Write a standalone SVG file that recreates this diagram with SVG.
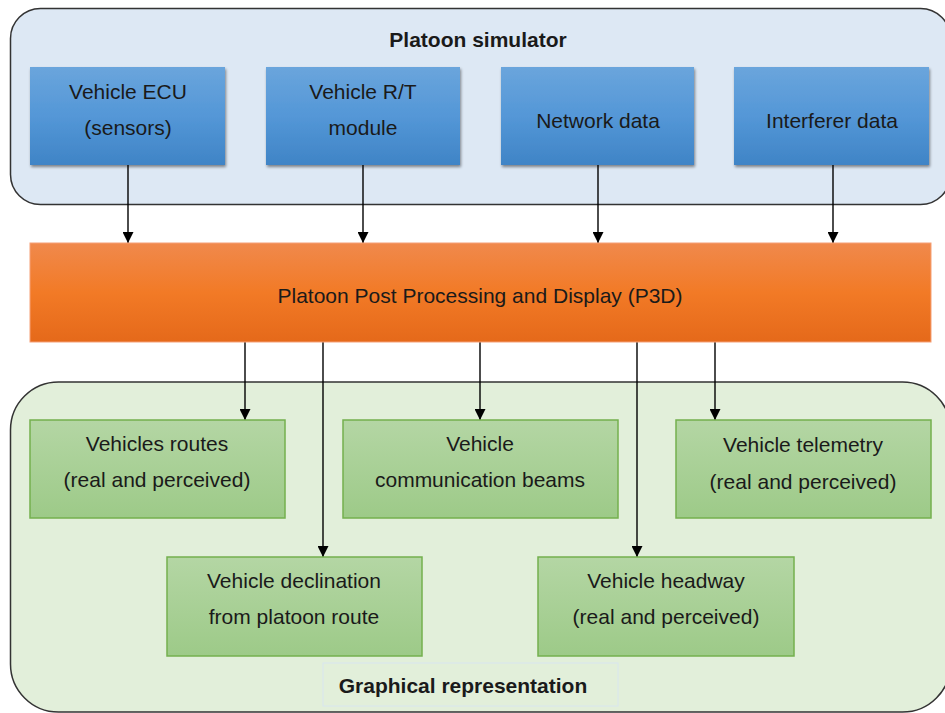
<svg xmlns="http://www.w3.org/2000/svg" width="945" height="713" viewBox="0 0 945 713">
<defs>
<linearGradient id="gBlue" x1="0" y1="0" x2="0" y2="1">
<stop offset="0" stop-color="#6aa5dc"/><stop offset="0.5" stop-color="#5497d7"/><stop offset="1" stop-color="#3f84c6"/>
</linearGradient>
<linearGradient id="gOrange" x1="0" y1="0" x2="0" y2="1">
<stop offset="0" stop-color="#f0894c"/><stop offset="0.5" stop-color="#f27a26"/><stop offset="1" stop-color="#e5691a"/>
</linearGradient>
<linearGradient id="gGreen" x1="0" y1="0" x2="0" y2="1">
<stop offset="0" stop-color="#b4d6a4"/><stop offset="1" stop-color="#9dca88"/>
</linearGradient>
<filter id="shadow" x="-10%" y="-10%" width="120%" height="130%">
<feGaussianBlur in="SourceAlpha" stdDeviation="1.5"/>
<feOffset dx="1" dy="2"/>
<feComponentTransfer><feFuncA type="linear" slope="0.45"/></feComponentTransfer>
<feMerge><feMergeNode/><feMergeNode in="SourceGraphic"/></feMerge>
</filter>
<marker id="arr" viewBox="0 0 10 10" refX="10" refY="5" markerWidth="11" markerHeight="11" markerUnits="userSpaceOnUse" orient="auto">
<path d="M0,0 L10,5 L0,10 z" fill="#000"/>
</marker>
</defs>
<style>
.t{font-family:"Liberation Sans",Arial,sans-serif;font-size:21px;fill:#1a1a1a;text-anchor:middle;dominant-baseline:central}
.b{font-weight:bold;font-size:21px}
.blue{fill:url(#gBlue);filter:url(#shadow)}
.green{fill:url(#gGreen);stroke:#74b04e;stroke-width:1.5}
.c{stroke:#000;stroke-width:1.4;fill:none}
</style>
<rect width="945" height="713" fill="#ffffff"/>
<g id="simulator">
<rect x="10.5" y="8.5" width="940" height="196" rx="30" fill="#dde8f4" stroke="#333" stroke-width="1.5"/>
<text class="t b" x="478" y="39">Platoon simulator</text>
</g>
<g id="graphical">
<rect x="10.5" y="382" width="940" height="330" rx="48" fill="#e2efda" stroke="#333" stroke-width="1.5"/>
</g>
<g id="connectors">
<line class="c" x1="128" y1="165" x2="128" y2="243" marker-end="url(#arr)"/>
<line class="c" x1="363" y1="165" x2="363" y2="243" marker-end="url(#arr)"/>
<line class="c" x1="598" y1="165" x2="598" y2="243" marker-end="url(#arr)"/>
<line class="c" x1="833" y1="165" x2="833" y2="243" marker-end="url(#arr)"/>
<line class="c" x1="245" y1="342" x2="245" y2="420" marker-end="url(#arr)"/>
<line class="c" x1="323" y1="342" x2="323" y2="557" marker-end="url(#arr)"/>
<line class="c" x1="480" y1="342" x2="480" y2="420" marker-end="url(#arr)"/>
<line class="c" x1="637" y1="342" x2="637" y2="557" marker-end="url(#arr)"/>
<line class="c" x1="715" y1="342" x2="715" y2="420" marker-end="url(#arr)"/>
</g>
<g id="ecu">
<rect class="blue" x="30" y="67" width="195" height="98"/>
<text class="t" x="128" y="91">Vehicle ECU</text>
<text class="t" x="128" y="127">(sensors)</text>
</g>
<g id="rt">
<rect class="blue" x="266" y="67" width="194" height="98"/>
<text class="t" x="363" y="91">Vehicle R/T</text>
<text class="t" x="363" y="127">module</text>
</g>
<g id="network">
<rect class="blue" x="501" y="67" width="193" height="98"/>
<text class="t" x="598" y="120">Network data</text>
</g>
<g id="interferer">
<rect class="blue" x="734" y="67" width="195" height="98"/>
<text class="t" x="832" y="120">Interferer data</text>
</g>
<g id="p3d">
<rect x="30" y="243" width="901" height="99" fill="url(#gOrange)" stroke="#f5a077" stroke-width="1"/>
<text class="t" x="480" y="295">Platoon Post Processing and Display (P3D)</text>
</g>
<g id="routes">
<rect class="green" x="30" y="420" width="255" height="98"/>
<text class="t" x="157" y="443">Vehicles routes</text>
<text class="t" x="157" y="479">(real and perceived)</text>
</g>
<g id="beams">
<rect class="green" x="343" y="420" width="275" height="98"/>
<text class="t" x="480" y="443">Vehicle</text>
<text class="t" x="480" y="479">communication beams</text>
</g>
<g id="telemetry">
<rect class="green" x="676" y="420" width="255" height="98"/>
<text class="t" x="803" y="444">Vehicle telemetry</text>
<text class="t" x="803" y="481">(real and perceived)</text>
</g>
<g id="declination">
<rect class="green" x="167" y="557" width="255" height="99"/>
<text class="t" x="294" y="580">Vehicle declination</text>
<text class="t" x="294" y="616">from platoon route</text>
</g>
<g id="headway">
<rect class="green" x="538" y="557" width="256" height="99"/>
<text class="t" x="666" y="580">Vehicle headway</text>
<text class="t" x="666" y="616">(real and perceived)</text>
</g>
<g id="graphical-label">
<rect x="323" y="663" width="295" height="43" fill="#e2efda" stroke="#d8e6ef" stroke-width="1"/>
<text class="t b" x="463" y="685">Graphical representation</text>
</g>
</svg>
